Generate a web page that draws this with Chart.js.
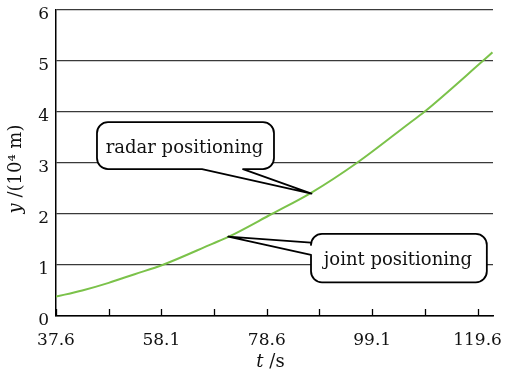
<!DOCTYPE html>
<html><head><meta charset="utf-8">
<script src="https://cdn.jsdelivr.net/npm/chart.js@4"></script>
<style>html,body{margin:0;padding:0;background:#fff;} #wrap{width:507px;height:373px;}</style>
</head><body><div id="wrap"><canvas id="c" width="507" height="373"></canvas></div>
<script>
// ---- data ----
const timeValues = [37.6, 42.7, 47.85, 52.9, 58.3, 68.1, 71.1, 79.55, 87.3, 96.1, 106.45, 109.2, 120.6, 122.5];
const positionValues = [0.38, 0.50, 0.65, 0.82, 1.0, 1.42, 1.55, 2.0, 2.42, 3.0, 3.79, 4.0, 5.0, 5.17];
const xTickValues = [37.6, 47.85, 58.1, 68.35, 78.6, 88.85, 99.1, 109.35, 119.6];
const xTickLabels = ['37.6', '', '58.1', '', '78.6', '', '99.1', '', '119.6'];
const yTickValues = [0, 1, 2, 3, 4, 5, 6];
const yTickLabels = ['0', '1', '2', '3', '4', '5', '6'];
const calloutLabels = ['radar positioning', 'joint positioning'];

// callout geometry in data units (t, y)
const callouts = [
  {text: calloutLabels[0], box: [45.57, 3.80, 80.0, 2.88], tip: [87.3, 2.40], side: 'bottom', base: [66.0, 73.97]},
  {text: calloutLabels[1], box: [87.2, 1.61, 121.4, 0.66], tip: [71.1, 1.555], side: 'left', base: [1.44, 1.20]}
];

const FONT = 'DejaVu Serif';

const extras = {
  id: 'extras',
  afterDraw(chart) {
    const ctx = chart.ctx, xs = chart.scales.x, ys = chart.scales.y, ca = chart.chartArea;
    ctx.save();
    // inward tick marks on x axis
    ctx.strokeStyle = '#000'; ctx.lineWidth = 1.3;
    xTickValues.forEach(v => {
      const px = Math.round(xs.getPixelForValue(v)) + 0.5;
      ctx.beginPath(); ctx.moveTo(px, ca.bottom); ctx.lineTo(px, ca.bottom - 7); ctx.stroke();
    });
    // callouts
    callouts.forEach(c => {
      const x0 = xs.getPixelForValue(c.box[0]), y0 = ys.getPixelForValue(c.box[1]);
      const x1 = xs.getPixelForValue(c.box[2]), y1 = ys.getPixelForValue(c.box[3]);
      const tx = xs.getPixelForValue(c.tip[0]), ty = ys.getPixelForValue(c.tip[1]);
      const r = 11;
      ctx.beginPath();
      if (c.side === 'bottom') {
        const a = xs.getPixelForValue(c.base[0]), b = xs.getPixelForValue(c.base[1]);
        ctx.moveTo(a, y1); ctx.lineTo(tx, ty); ctx.lineTo(b, y1);
        ctx.arcTo(x1, y1, x1, y0, r); ctx.arcTo(x1, y0, x0, y0, r);
        ctx.arcTo(x0, y0, x0, y1, r); ctx.arcTo(x0, y1, a, y1, r);
        ctx.closePath();
      } else {
        const a = ys.getPixelForValue(c.base[0]), b = ys.getPixelForValue(c.base[1]);
        ctx.moveTo(x0, a); ctx.lineTo(tx, ty); ctx.lineTo(x0, b);
        ctx.arcTo(x0, y1, x1, y1, r); ctx.arcTo(x1, y1, x1, y0, r);
        ctx.arcTo(x1, y0, x0, y0, r); ctx.arcTo(x0, y0, x0, a, r);
        ctx.closePath();
      }
      ctx.fillStyle = '#fff'; ctx.fill();
      ctx.strokeStyle = '#000'; ctx.lineWidth = 1.8; ctx.lineJoin = 'round'; ctx.stroke();
      ctx.fillStyle = '#111'; ctx.font = '18px "' + FONT + '"';
      ctx.textAlign = 'center'; ctx.textBaseline = 'alphabetic';
      ctx.fillText(c.text, (x0 + x1) / 2 - 1, (y0 + y1) / 2 + 7);
    });
    // axis titles with mixed styles
    function drawMixed(parts, cx, cy) {
      let total = 0;
      parts.forEach(p => { ctx.font = p.f; total += ctx.measureText(p.t).width; });
      let x = cx - total / 2;
      ctx.textAlign = 'left'; ctx.textBaseline = 'alphabetic';
      parts.forEach(p => { ctx.font = p.f; ctx.fillText(p.t, x, cy); x += ctx.measureText(p.t).width; });
    }
    ctx.fillStyle = '#111';
    const it = 'italic 18px "' + FONT + '"', rg = '18px "' + FONT + '"';
    drawMixed([{t: 't', f: it}, {t: ' /s', f: rg}], (ca.left + ca.right) / 2 - 4, 367);
    ctx.translate(21, (ca.top + ca.bottom) / 2 + 6);
    ctx.rotate(-Math.PI / 2);
    drawMixed([{t: 'y', f: it}, {t: ' /(10\u2074 m)', f: rg}], 0, 0);
    ctx.restore();
  }
};

new Chart(document.getElementById('c'), {
  type: 'line',
  data: {
    datasets: [{
      label: 'joint positioning',
      data: timeValues.map((t, i) => ({x: t, y: positionValues[i]})),
      borderColor: '#7bc24a', borderWidth: 2, pointRadius: 0,
      cubicInterpolationMode: 'monotone', fill: false
    }]
  },
  options: {
    responsive: false, animation: false, devicePixelRatio: 1,
    layout: {padding: {top: 10, right: 14, left: 0, bottom: 0}},
    plugins: {legend: {display: false}, tooltip: {enabled: false}},
    scales: {
      x: {
        type: 'linear', min: 37.6, max: 122.6,
        afterBuildTicks: s => { s.ticks = xTickValues.map(v => ({value: v})); },
        afterFit: s => { s.height = 57; s.paddingLeft = 0; s.paddingRight = 0; },
        grid: {drawOnChartArea: false, drawTicks: false},
        border: {color: '#000', width: 1.5},
        ticks: {autoSkip: false, maxRotation: 0, padding: 14, color: '#111',
          font: {family: FONT, size: 17}, callback: (v, i) => xTickLabels[i]}
      },
      y: {
        min: 0, max: 6,
        afterBuildTicks: s => { s.ticks = yTickValues.map(v => ({value: v})); },
        afterFit: s => { s.width = 56; s.paddingTop = 0; s.paddingBottom = 0; },
        grid: {color: '#3a3a3a', lineWidth: 1.3, drawTicks: false},
        border: {color: '#000', width: 1.5},
        ticks: {padding: 7, labelOffset: 5, color: '#111',
          font: {family: FONT, size: 17}, callback: (v, i) => yTickLabels[i]}
      }
    }
  },
  plugins: [extras]
});
</script></body></html>
